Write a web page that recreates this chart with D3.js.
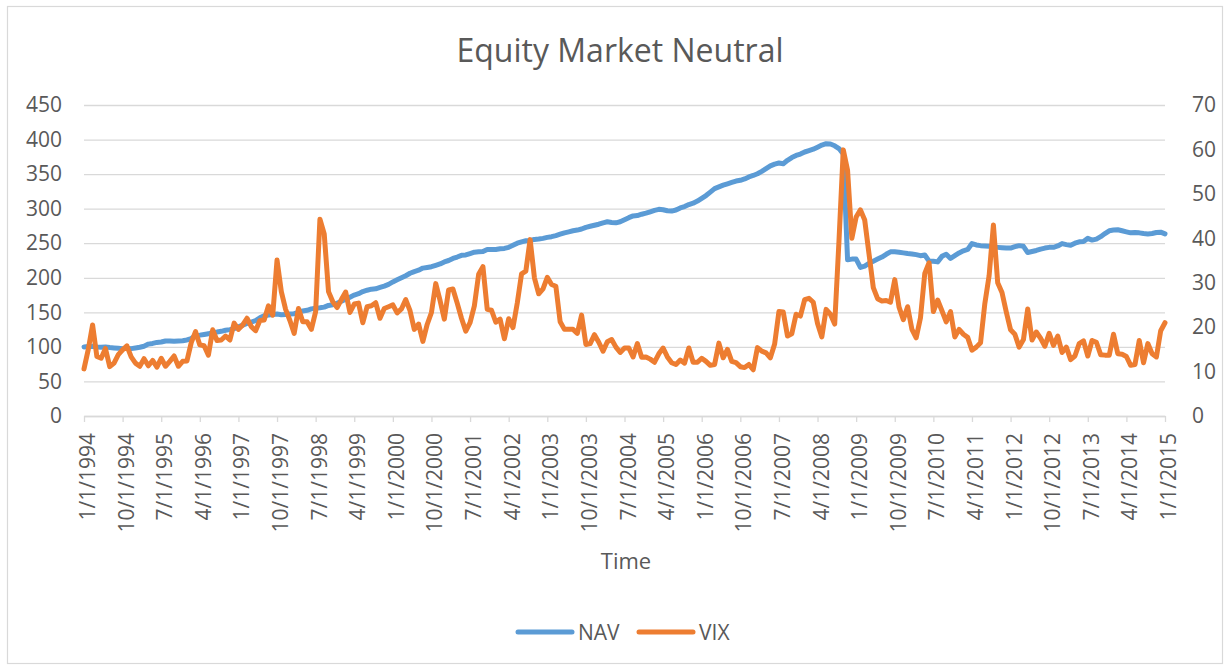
<!DOCTYPE html>
<html>
<head>
<meta charset="utf-8">
<script src="https://cdn.jsdelivr.net/npm/d3@7"></script>
<style>
  body { margin: 0; background: #fff; }
  text { font-family: "Open Sans", sans-serif; fill: #595959; }
</style>
</head>
<body>
<svg id="chart" width="1230" height="669"></svg>
<script>
const chartTitle = 'Equity Market Neutral';
const xTitle = 'Time';
const seriesNames = ['NAV', 'VIX'];
const seriesColors = ['#5B9BD5', '#ED7D31'];

const leftTicks = [0, 50, 100, 150, 200, 250, 300, 350, 400, 450];
const rightTicks = [0, 10, 20, 30, 40, 50, 60, 70];

const tickLabels = [
  '1/1/1994', '10/1/1994', '7/1/1995', '4/1/1996', '1/1/1997', '10/1/1997',
  '7/1/1998', '4/1/1999', '1/1/2000', '10/1/2000', '7/1/2001', '4/1/2002',
  '1/1/2003', '10/1/2003', '7/1/2004', '4/1/2005', '1/1/2006', '10/1/2006',
  '7/1/2007', '4/1/2008', '1/1/2009', '10/1/2009', '7/1/2010', '4/1/2011',
  '1/1/2012', '10/1/2012', '7/1/2013', '4/1/2014', '1/1/2015'
];

// monthly, 1/1/1994 .. 1/1/2015
const navValues = [
  100, 100.5, 101, 100, 99.5, 100, 99, 98.5, 98, 97.5, 98, 97.5,
  98.5, 99.5, 101, 104, 105, 106.5, 107, 108.5, 108.5, 108, 108.5, 109,
  110, 112, 116.5, 117, 118, 119, 121, 121.5, 122.5, 124, 125, 126.5,
  129, 131.5, 134, 136, 138, 142, 145, 146, 147, 147.5, 146.5, 147,
  147.5, 148, 150, 152, 153, 155, 156, 156.5, 157.5, 160, 161, 163,
  166, 169, 172, 175, 177, 180, 182, 183.5, 184, 186, 188, 190.5,
  194, 197, 200, 203, 206.5, 209, 211, 214, 215, 216, 218, 220,
  223, 225, 228, 230, 232.5, 233, 235, 237, 237.5, 238, 241, 241,
  241, 242, 242.5, 244, 247, 250, 252, 253.5, 254, 255.5, 256, 257,
  258.5, 259.5, 261, 263, 265, 266.5, 268, 269, 270.5, 273, 274.5, 276,
  277.5, 279.5, 281, 280, 279.5, 281, 284, 287, 289.5, 290, 292, 293.5,
  295.5, 297.5, 299, 298.5, 297, 296.5, 298, 301, 303, 306, 308, 311,
  315, 319, 324, 329, 331.5, 334, 336, 338, 340, 341, 343, 346,
  348, 350.5, 354, 358, 362, 364.5, 366, 365, 370, 374, 377, 379,
  382, 384, 386, 389, 392, 394, 393.5, 391, 387, 379, 226, 227,
  227, 215, 217, 221, 224, 227, 230, 234, 237.5, 237.5, 237, 236,
  235, 234.5, 233.5, 232, 233, 224, 224, 223, 231, 234, 228, 232,
  236, 239, 241, 249.5, 247.5, 246.5, 246, 245.5, 244.5, 244, 243.5, 243,
  243, 245, 246.5, 245.5, 236.5, 238, 239.5, 241.5, 243, 244, 244, 246,
  249.5, 248, 247, 250, 252, 252.5, 257, 254.5, 256, 259.5, 264, 268,
  269, 269.5, 268, 266.5, 265, 265.5, 265, 264, 263.5, 264, 265.5, 266,
  263.5
];

const vixValues = [
  10.6, 15.0, 20.5, 13.4, 13.0, 15.2, 11.1, 11.9, 13.8, 14.9, 15.8, 13.3,
  11.9, 11.2, 12.9, 11.3, 12.5, 11.0, 13.0, 11.2, 12.3, 13.5, 11.2, 12.3,
  12.4, 16.5, 19.0, 16.0, 15.8, 13.7, 19.4, 17.0, 17.1, 18.0, 17.1, 20.9,
  19.5, 20.5, 22.0, 20.1, 19.2, 21.5, 21.6, 24.8, 22.7, 35.1, 28.0, 24.0,
  21.5, 18.6, 24.2, 21.2, 21.2, 19.5, 23.5, 44.3, 41.0, 28.0, 25.7, 24.4,
  26.2, 27.9, 23.3, 25.2, 25.4, 21.0, 24.6, 24.8, 25.5, 22.0, 24.2, 24.6,
  25.0, 23.2, 24.1, 26.2, 23.7, 19.5, 20.7, 16.8, 20.6, 23.3, 29.8, 26.0,
  21.8, 28.4, 28.6, 25.4, 22.0, 19.1, 21.0, 24.8, 31.9, 33.6, 24.0, 23.8,
  21.1, 21.8, 17.4, 21.9, 19.9, 25.4, 32.0, 32.6, 39.7, 31.1, 27.5, 28.6,
  31.2, 29.6, 29.2, 21.2, 19.5, 19.5, 19.5, 18.6, 22.7, 16.1, 16.3, 18.3,
  16.6, 14.6, 16.7, 17.2, 15.5, 14.3, 15.3, 15.3, 13.3, 16.3, 13.2, 13.3,
  12.8, 12.1, 14.0, 15.3, 13.3, 12.0, 11.6, 12.6, 11.9, 15.3, 12.1, 12.1,
  13.0, 12.3, 11.4, 11.6, 16.4, 13.1, 15.0, 12.3, 12.0, 11.1, 10.9, 11.6,
  10.4, 15.4, 14.6, 14.2, 13.1, 16.2, 23.5, 23.4, 18.0, 18.5, 22.9, 22.5,
  26.2, 26.5, 25.6, 20.8, 17.8, 24.0, 22.9, 20.7, 39.4, 59.9, 55.3, 40.0,
  44.8, 46.4, 44.1, 36.5, 28.9, 26.4, 25.9, 26.0, 25.6, 30.7, 24.5, 21.7,
  24.6, 19.5, 17.6, 22.1, 32.1, 34.5, 23.5, 26.1, 23.7, 21.2, 23.5, 17.8,
  19.5, 18.4, 17.7, 14.8, 15.5, 16.5, 25.3, 31.6, 43.0, 30.0, 27.8, 23.4,
  19.4, 18.4, 15.5, 17.2, 24.1, 17.1, 18.9, 17.5, 15.7, 18.6, 15.9, 18.0,
  14.3, 15.5, 12.7, 13.5, 16.3, 16.9, 13.5, 17.0, 16.6, 13.8, 13.7, 13.7,
  18.4, 14.0, 13.9, 13.4, 11.4, 11.6, 17.0, 12.0, 16.3, 14.0, 13.3, 19.2,
  21.0
];

// category labels, one per month
const months = navValues.map((d, i) => `${(i % 12) + 1}/1/${1994 + Math.floor(i / 12)}`);

const svg = d3.select('#chart');
const plot = { left: 84, right: 1165, top: 105, bottom: 416 };
const gridColor = '#d9d9d9';

// Chart border
svg.append('rect')
  .attr('x', 7.5)
  .attr('y', 6.5)
  .attr('width', 1215)
  .attr('height', 657)
  .attr('fill', '#fff')
  .attr('stroke', gridColor)
  .attr('stroke-width', 1.2);

const x = d3.scalePoint()
  .domain(months)
  .range([plot.left, plot.right]);

const yLeft = d3.scaleLinear()
  .domain([0, 450])
  .range([plot.bottom, plot.top]);

const yRight = d3.scaleLinear()
  .domain([0, 70])
  .range([plot.bottom, plot.top]);

// Add grid
svg.append('g')
  .attr('transform', `translate(${plot.left},0)`)
  .call(d3.axisLeft(yLeft)
    .tickValues(leftTicks)
    .tickSize(-(plot.right - plot.left))
    .tickFormat(() => ''))
  .call(g => g.select('.domain').remove())
  .call(g => g.selectAll('line')
    .attr('stroke', gridColor)
    .attr('stroke-width', 1.3));

// Left axis labels
svg.append('g')
  .attr('transform', `translate(${plot.left},0)`)
  .call(d3.axisLeft(yLeft).tickValues(leftTicks).tickSize(0).tickPadding(22))
  .call(g => g.select('.domain').remove())
  .call(g => g.selectAll('text')
    .style('font-family', '"Open Sans", sans-serif')
    .style('font-size', '21px')
    .attr('fill', '#595959'));

// Right axis labels
svg.append('g')
  .attr('transform', `translate(${plot.right},0)`)
  .call(d3.axisRight(yRight).tickValues(rightTicks).tickSize(0).tickPadding(27))
  .call(g => g.select('.domain').remove())
  .call(g => g.selectAll('text')
    .style('font-family', '"Open Sans", sans-serif')
    .style('font-size', '21px')
    .attr('fill', '#595959'));

// Add X axis
svg.append('g')
  .attr('transform', `translate(0,${plot.bottom})`)
  .call(d3.axisBottom(x).tickValues(tickLabels).tickSize(6).tickSizeOuter(0))
  .call(g => g.select('.domain')
    .attr('stroke', gridColor)
    .attr('stroke-width', 1.3))
  .call(g => g.selectAll('line')
    .attr('stroke', gridColor)
    .attr('stroke-width', 1.3))
  .selectAll('text')
  .attr('transform', 'rotate(-90)')
  .attr('x', -17)
  .attr('y', 0)
  .attr('dy', '0.5em')
  .style('text-anchor', 'end')
  .style('font-family', '"Open Sans", sans-serif')
  .style('font-size', '21px')
  .attr('fill', '#595959');

// Add lines
const navLine = d3.line()
  .x((d, i) => x(months[i]))
  .y(d => yLeft(d));

const vixLine = d3.line()
  .x((d, i) => x(months[i]))
  .y(d => yRight(d));

svg.append('path')
  .datum(navValues)
  .attr('fill', 'none')
  .attr('stroke', seriesColors[0])
  .attr('stroke-width', 5)
  .attr('stroke-linejoin', 'round')
  .attr('stroke-linecap', 'round')
  .attr('d', navLine);

svg.append('path')
  .datum(vixValues)
  .attr('fill', 'none')
  .attr('stroke', seriesColors[1])
  .attr('stroke-width', 5)
  .attr('stroke-linejoin', 'round')
  .attr('stroke-linecap', 'round')
  .attr('d', vixLine);

// Add chart title
svg.append('text')
  .attr('x', 620)
  .attr('y', 62)
  .attr('text-anchor', 'middle')
  .style('font-size', '32px')
  .text(chartTitle);

// Add axis title
svg.append('text')
  .attr('x', 626)
  .attr('y', 569)
  .attr('text-anchor', 'middle')
  .style('font-size', '22px')
  .text(xTitle);

// Add legend
const legendX = [518, 639];
const legend = svg.append('g')
  .selectAll('g')
  .data(seriesNames)
  .enter()
  .append('g')
  .attr('transform', (d, i) => `translate(${legendX[i]},632)`);

legend.append('line')
  .attr('x1', 0)
  .attr('x2', 54)
  .attr('stroke', (d, i) => seriesColors[i])
  .attr('stroke-width', 5)
  .attr('stroke-linecap', 'round');

legend.append('text')
  .attr('x', 60)
  .attr('y', 7.5)
  .style('font-size', '21px')
  .text(d => d);
</script>
</body>
</html>
